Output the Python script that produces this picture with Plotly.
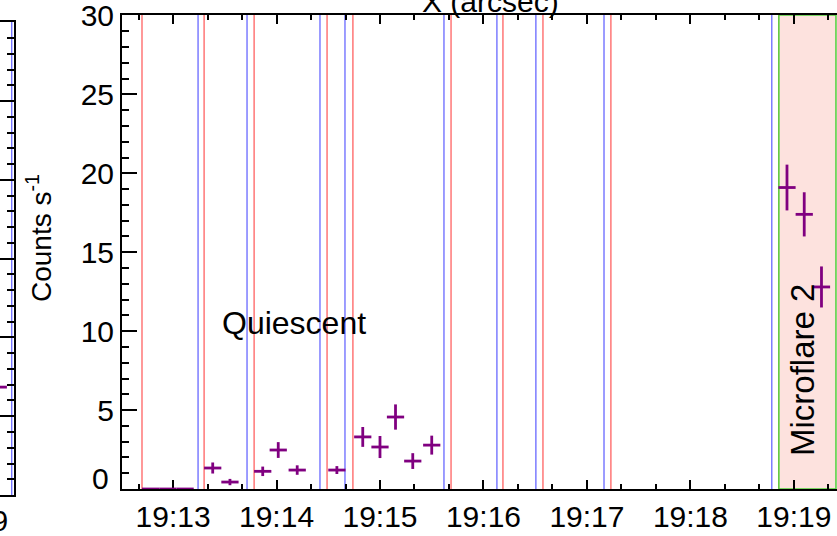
import plotly.graph_objects as go
import pandas as pd

DAY = "2016-07-26 "

# ---- data ----
zero_t = ["19:12:47", "19:12:57", "19:13:07"]
zero_y = [0.0, 0.0, 0.0]
zero_err = [0.0, 0.0, 0.0]

quiet_t = ["19:13:23", "19:13:33", "19:13:52", "19:14:01", "19:14:12", "19:14:35",
           "19:14:50", "19:15:00", "19:15:09", "19:15:19", "19:15:30"]
quiet_y = [1.33, 0.44, 1.12, 2.47, 1.2, 1.2, 3.3, 2.66, 4.56, 1.77, 2.78]
quiet_err = [0.35, 0.2, 0.3, 0.5, 0.3, 0.25, 0.63, 0.7, 0.8, 0.5, 0.6]

flare_t = ["19:18:56", "19:19:06", "19:19:16"]
flare_y = [19.1, 17.4, 12.8]
flare_err = [1.45, 1.4, 1.3]

bin_half_s = 5

red_t = ["19:12:42.0", "19:13:18.0", "19:13:47.0", "19:14:29.3", "19:14:44.3",
         "19:15:41.2", "19:16:11.3", "19:16:34.5", "19:17:13.9", "19:18:51.3"]
blue_t = ["19:13:14.5", "19:13:42.9", "19:14:25.2", "19:14:39.7", "19:15:37.1",
          "19:16:07.8", "19:16:30.4", "19:17:09.9", "19:18:47.2"]
flare_window = ["19:18:51.3", "19:19:24.4"]
x_range = ["19:12:30.4", "19:19:25.0"]
y_range = [0, 30.03]
y_tickvals = [0, 5, 10, 15, 20, 25, 30]
y_ticktext = ["", "5", "10", "15", "20", "25", "30"]

# neighbouring panel fragment (left edge of the picture)
left_x_range = ["19:19:10.0", "19:19:18.1"]
left_t = ["19:19:09"]
left_y = [6.85]
left_err = [0.5]
left_blue_t = ["19:19:16.8"]

PURPLE = "#800080"
FONT = "Liberation Sans, Arial, sans-serif"
TICKFONT = dict(family=FONT, size=30, color="black")


def ts(t):
    return pd.Timestamp(DAY + t)


def fmt(t):
    return t.strftime("%Y-%m-%d %H:%M:%S.%f")


def crosses(times, ys, errs):
    xs, yy = [], []
    h = pd.Timedelta(seconds=bin_half_s)
    for t, y, e in zip(times, ys, errs):
        c = ts(t)
        xs += [fmt(c - h), fmt(c + h), None]
        yy += [y, y, None]
        if e > 0:
            xs += [fmt(c), fmt(c), None]
            yy += [y - e, y + e, None]
    return xs, yy


fig = go.Figure()

for (tt, yv, ev) in [(zero_t, zero_y, zero_err), (quiet_t, quiet_y, quiet_err),
                     (flare_t, flare_y, flare_err)]:
    xs, yy = crosses(tt, yv, ev)
    fig.add_trace(go.Scatter(x=xs, y=yy, mode="lines",
                             line=dict(color=PURPLE, width=2.8),
                             showlegend=False, hoverinfo="skip",
                             xaxis="x", yaxis="y"))

xs, yy = crosses(left_t, left_y, left_err)
fig.add_trace(go.Scatter(x=xs, y=yy, mode="lines",
                         line=dict(color=PURPLE, width=2.8),
                         showlegend=False, hoverinfo="skip",
                         xaxis="x2", yaxis="y2"))

shapes = []
for t in red_t:
    shapes.append(dict(type="line", xref="x", yref="y domain",
                       x0=fmt(ts(t)), x1=fmt(ts(t)), y0=0, y1=1,
                       line=dict(color="rgba(255,40,40,0.8)", width=1.2),
                       layer="below"))
for t in blue_t:
    shapes.append(dict(type="line", xref="x", yref="y domain",
                       x0=fmt(ts(t)), x1=fmt(ts(t)), y0=0, y1=1,
                       line=dict(color="rgba(50,50,255,0.8)", width=1.2),
                       layer="below"))
shapes.append(dict(type="rect", xref="x", yref="y domain",
                   x0=fmt(ts(flare_window[0])), x1=fmt(ts(flare_window[1])),
                   y0=0, y1=1, fillcolor="rgb(253,226,222)",
                   line=dict(color="#4fcf3a", width=1.5), layer="below"))
for t in left_blue_t:
    shapes.append(dict(type="line", xref="x2", yref="y2 domain",
                       x0=fmt(ts(t)), x1=fmt(ts(t)), y0=0, y1=1,
                       line=dict(color="rgba(50,50,255,0.8)", width=1.2),
                       layer="below"))

W, H = 837, 536
T, B = 15, 41
PH = H - T - B  # 480

fig.update_layout(
    width=W, height=H,
    margin=dict(l=0, r=0, t=T, b=B, pad=0),
    paper_bgcolor="white", plot_bgcolor="white",
    font=dict(family=FONT, color="black", size=30),
    shapes=shapes,
    xaxis=dict(domain=[122 / W, 1], anchor="y", type="date",
               range=[fmt(ts(x_range[0])), fmt(ts(x_range[1]))],
               tickformat="%H:%M", dtick=60000, tick0=DAY + "19:13:00",
               tickfont=TICKFONT, ticklabeloverflow="allow", automargin=False,
               showline=True, linecolor="black", linewidth=2,
               showgrid=False, zeroline=False,
               ticks="inside", ticklen=9, tickwidth=2, tickcolor="black",
               minor=dict(dtick=20000, ticklen=5, tickwidth=2, ticks="inside",
                          tickcolor="black", showgrid=False),
               mirror="ticks", layer="below traces"),
    yaxis=dict(domain=[6 / PH, 1], anchor="x", range=y_range,
               tickmode="array", tickvals=y_tickvals, ticktext=y_ticktext,
               tickfont=TICKFONT, ticklabeloverflow="allow", automargin=False,
               showline=True, linecolor="black", linewidth=2,
               showgrid=False, zeroline=False,
               ticks="inside", ticklen=15, tickwidth=2, tickcolor="black",
               minor=dict(dtick=1, ticklen=7, tickwidth=2, ticks="inside",
                          tickcolor="black", showgrid=False),
               mirror=False),
    xaxis2=dict(domain=[0, 14 / W], anchor="y2", type="date",
                range=[fmt(ts(left_x_range[0])), fmt(ts(left_x_range[1]))],
                showline=True, linecolor="black", linewidth=2,
                showgrid=False, zeroline=False,
                showticklabels=False, ticks="inside", ticklen=9, tickwidth=2,
                dtick=60000, mirror="ticks"),
    yaxis2=dict(domain=[0, (PH - 7) / PH], anchor="x2",
                side="right", range=y_range, showticklabels=False,
                showline=True, linecolor="black", linewidth=2,
                showgrid=False, zeroline=False,
                tickmode="array", tickvals=y_tickvals,
                ticks="inside", ticklen=15, tickwidth=2, tickcolor="black",
                minor=dict(dtick=1, ticklen=7, tickwidth=2, ticks="inside",
                           tickcolor="black", showgrid=False),
                mirror=False),
)

ann = []
ann.append(dict(text="Quiescent", xref="x", yref="y",
                x=fmt(ts("19:14:10")), y=10.5, showarrow=False,
                font=dict(family=FONT, size=32, color="black"),
                xanchor="center", yanchor="middle"))
ann.append(dict(text="Microflare 2", xref="paper", yref="paper",
                x=803 / W, y=(H - B - 370) / PH, showarrow=False, textangle=-90,
                font=dict(family=FONT, size=33, color="black"),
                xanchor="center", yanchor="middle"))
ann.append(dict(text="Counts s<sup>-1</sup>", xref="paper", yref="paper",
                x=39 / W, y=(H - B - 238) / PH, showarrow=False, textangle=-90,
                font=dict(family=FONT, size=28, color="black"),
                xanchor="center", yanchor="middle"))
ann.append(dict(text="0", xref="paper", yref="y", x=111 / W, y=0.65,
                showarrow=False, font=dict(family=FONT, size=30, color="black"),
                xanchor="right", yanchor="middle"))
ann.append(dict(text="X (arcsec)", xref="paper", yref="paper",
                x=490 / W, y=(H - B - 1) / PH, showarrow=False,
                font=dict(family=FONT, size=30, color="black"),
                xanchor="center", yanchor="middle"))
ann.append(dict(text="19:19", xref="paper", yref="paper",
                x=10 / W, y=(H - B - 520) / PH, showarrow=False,
                font=dict(family=FONT, size=30, color="black"),
                xanchor="right", yanchor="middle"))
fig.update_layout(annotations=ann)

fig.write_html("out.html")
